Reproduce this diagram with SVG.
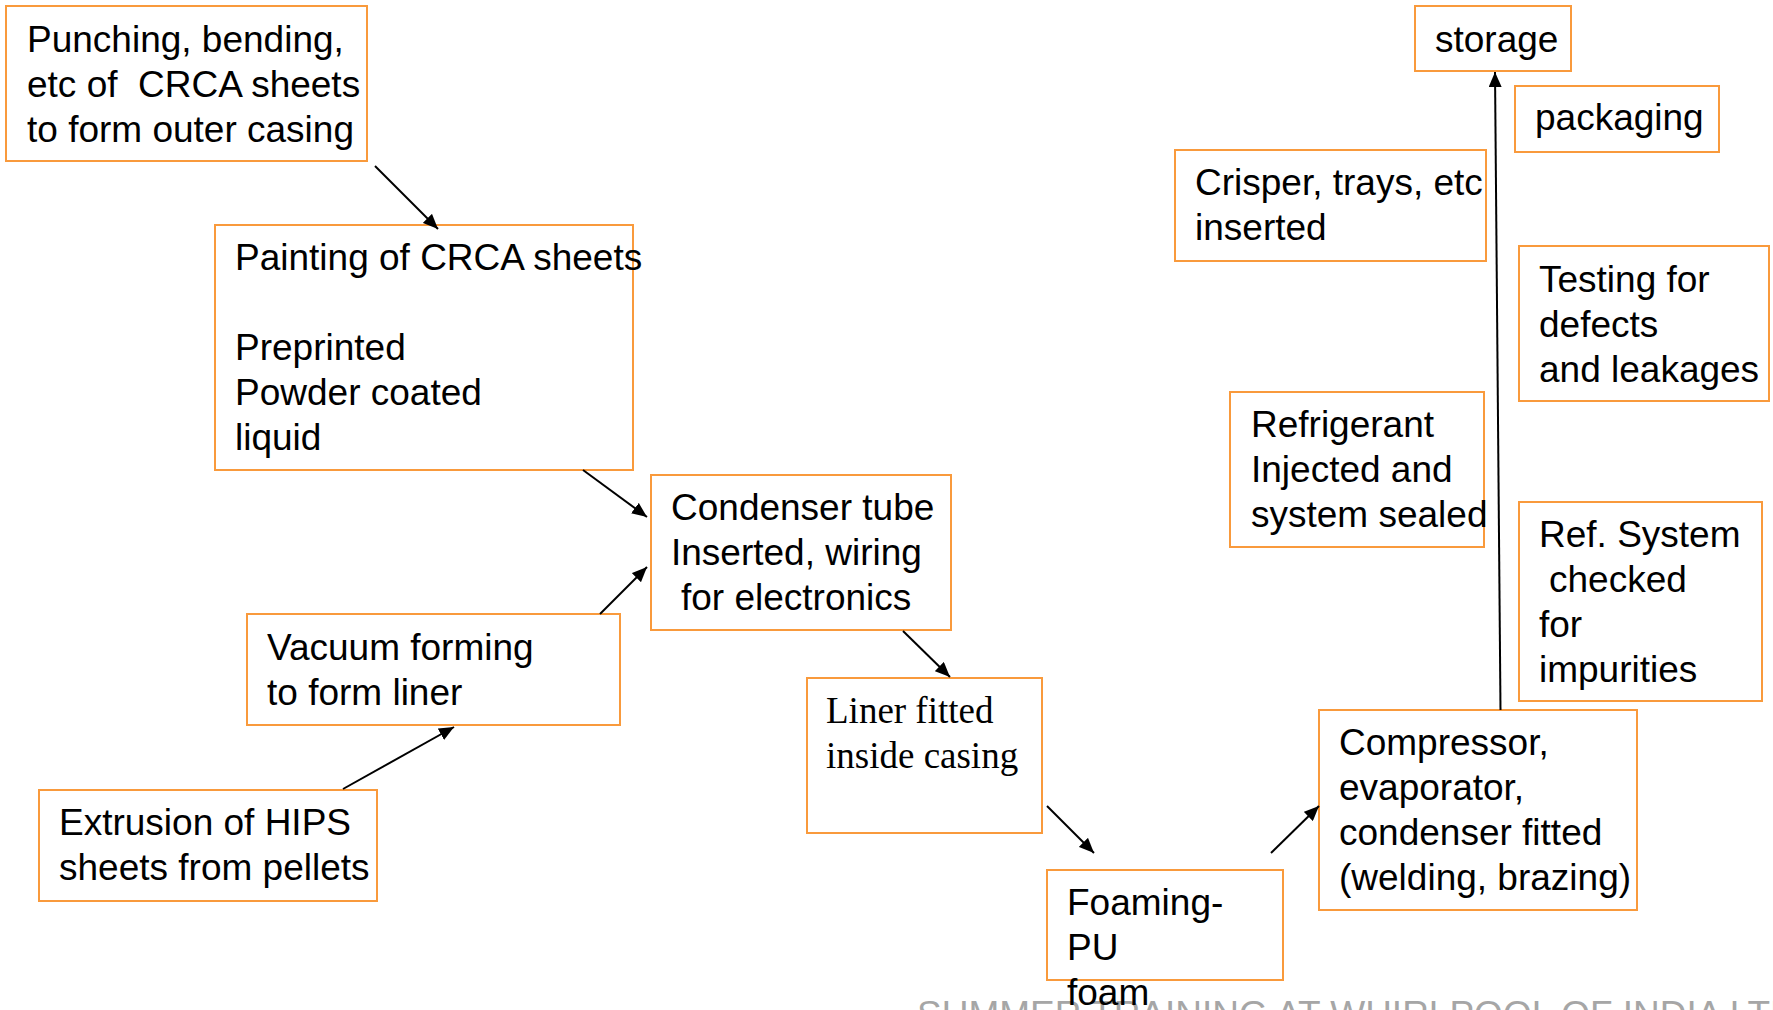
<svg xmlns="http://www.w3.org/2000/svg" width="1773" height="1010" viewBox="0 0 1773 1010">
<style>
.box{fill:#ffffff;stroke:#f99a3c;stroke-width:2}
.t{font-family:"Liberation Sans",Arial,sans-serif;font-size:37px;fill:#000000}
.s{font-family:"Liberation Serif","Times New Roman",serif;font-size:37px;fill:#000000}
.foot{font-family:"Liberation Sans",Arial,sans-serif;font-size:37px;fill:#a6a6a6}
.c{stroke:#000000;stroke-width:2;fill:none;marker-end:url(#ah)}
</style>
<defs>
<marker id="ah" markerUnits="userSpaceOnUse" viewBox="0 0 15 13" refX="15" refY="6.5" markerWidth="15" markerHeight="13" orient="auto">
<path d="M0,0 L15,6.5 L0,13 Z" fill="#000000"/>
</marker>
</defs>
<rect width="1773" height="1010" fill="#ffffff"/>
<text class="foot" x="917" y="1027">SUMMER TRAINING AT WHIRLPOOL OF INDIA LTD</text>
<g id="n-punching">
<rect class="box" x="6" y="6" width="361" height="155"/>
<text class="t" xml:space="preserve"><tspan x="27" y="52">Punching, bending,</tspan><tspan x="27" y="97">etc of  CRCA sheets</tspan><tspan x="27" y="142">to form outer casing</tspan></text>
</g>
<g id="n-painting">
<rect class="box" x="215" y="225" width="418" height="245"/>
<text class="t"><tspan x="235" y="270">Painting of CRCA sheets</tspan><tspan x="235" y="360">Preprinted</tspan><tspan x="235" y="405">Powder coated</tspan><tspan x="235" y="450">liquid</tspan></text>
</g>
<g id="n-condenser">
<rect class="box" x="651" y="475" width="300" height="155"/>
<text class="t"><tspan x="671" y="520">Condenser tube</tspan><tspan x="671" y="565">Inserted, wiring</tspan><tspan x="681" y="610">for electronics</tspan></text>
</g>
<g id="n-vacuum">
<rect class="box" x="247" y="614" width="373" height="111"/>
<text class="t"><tspan x="267" y="660">Vacuum forming</tspan><tspan x="267" y="705">to form liner</tspan></text>
</g>
<g id="n-extrusion">
<rect class="box" x="39" y="790" width="338" height="111"/>
<text class="t"><tspan x="59" y="835">Extrusion of HIPS</tspan><tspan x="59" y="880">sheets from pellets</tspan></text>
</g>
<g id="n-liner">
<rect class="box" x="807" y="678" width="235" height="155"/>
<text class="s"><tspan x="826" y="723">Liner fitted</tspan><tspan x="826" y="768">inside casing</tspan></text>
</g>
<g id="n-foaming">
<rect class="box" x="1047" y="870" width="236" height="110"/>
<text class="t"><tspan x="1067" y="915">Foaming-</tspan><tspan x="1067" y="960">PU</tspan><tspan x="1067" y="1005">foam</tspan></text>
</g>
<g id="n-compressor">
<rect class="box" x="1319" y="710" width="318" height="200"/>
<text class="t"><tspan x="1339" y="755">Compressor,</tspan><tspan x="1339" y="800">evaporator,</tspan><tspan x="1339" y="845">condenser fitted</tspan><tspan x="1339" y="890">(welding, brazing)</tspan></text>
</g>
<g id="n-refrigerant">
<rect class="box" x="1230" y="392" width="254" height="155"/>
<text class="t"><tspan x="1251" y="437">Refrigerant</tspan><tspan x="1251" y="482">Injected and</tspan><tspan x="1251" y="527">system sealed</tspan></text>
</g>
<g id="n-refsystem">
<rect class="box" x="1519" y="502" width="243" height="199"/>
<text class="t"><tspan x="1539" y="547">Ref. System</tspan><tspan x="1549" y="592">checked</tspan><tspan x="1539" y="637">for</tspan><tspan x="1539" y="682">impurities</tspan></text>
</g>
<g id="n-testing">
<rect class="box" x="1519" y="246" width="250" height="155"/>
<text class="t"><tspan x="1539" y="292">Testing for</tspan><tspan x="1539" y="337">defects</tspan><tspan x="1539" y="382">and leakages</tspan></text>
</g>
<g id="n-crisper">
<rect class="box" x="1175" y="150" width="311" height="111"/>
<text class="t"><tspan x="1195" y="195">Crisper, trays, etc</tspan><tspan x="1195" y="240">inserted</tspan></text>
</g>
<g id="n-packaging">
<rect class="box" x="1515" y="86" width="204" height="66"/>
<text class="t" x="1535" y="130">packaging</text>
</g>
<g id="n-storage">
<rect class="box" x="1415" y="6" width="156" height="65"/>
<text class="t" x="1435" y="52">storage</text>
</g>
<g id="connectors">
<line class="c" x1="375" y1="166" x2="438" y2="229"/>
<line class="c" x1="583" y1="470" x2="647" y2="517"/>
<line class="c" x1="343" y1="789" x2="454" y2="727"/>
<line class="c" x1="600" y1="614" x2="647" y2="567"/>
<line class="c" x1="903" y1="631" x2="950" y2="677"/>
<line class="c" x1="1047" y1="806" x2="1094" y2="853"/>
<line class="c" x1="1271" y1="853" x2="1319" y2="806"/>
<line class="c" x1="1500.5" y1="710" x2="1495" y2="72"/>
</g>
</svg>
